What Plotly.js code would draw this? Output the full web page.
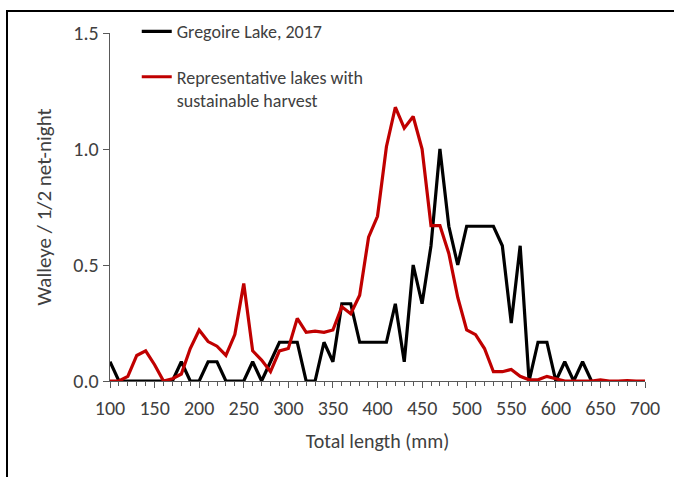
<!DOCTYPE html>
<html>
<head>
<meta charset="utf-8">
<script src="https://cdn.plot.ly/plotly-3.0.1.min.js"></script>
<style>
  html, body { margin: 0; padding: 0; background: #fff; }
  #frame { position: absolute; left: 6px; top: 10px; width: 700px; height: 500px;
           border-left: 2px solid #000; border-top: 2px solid #000; pointer-events: none; }
  #chart { position: absolute; left: 0; top: 0; width: 674px; height: 477px; }
</style>
</head>
<body>
<div id="chart"></div>
<div id="frame"></div>
<script>
// Total length (mm), 10-mm bins
const gregoireLength = [100,110,120,130,140,150,160,170,180,190,200,210,220,230,240,250,260,270,280,290,300,310,320,330,340,350,360,370,380,390,400,410,420,430,440,450,460,470,480,490,500,510,520,530,540,550,560,570,580,590,600,610,620,630,640];
const gregoireCatch = [0.083,0,0,0,0,0,0,0,0.083,0,0,0.083,0.083,0,0,0,0.083,0,0.083,0.167,0.167,0.167,0,0,0.167,0.083,0.333,0.333,0.167,0.167,0.167,0.167,0.333,0.083,0.5,0.333,0.583,1.0,0.667,0.5,0.667,0.667,0.667,0.667,0.583,0.25,0.583,0,0.167,0.167,0,0.083,0,0.083,0];

const refLength = [100,110,120,130,140,150,160,170,180,190,200,210,220,230,240,250,260,270,280,290,300,310,320,330,340,350,360,370,380,390,400,410,420,430,440,450,460,470,480,490,500,510,520,530,540,550,560,570,580,590,600,610,620,630,640,650,660,670,680,690,700];
const refCatch = [0,0,0.02,0.11,0.13,0.07,0.0,0.01,0.03,0.14,0.22,0.17,0.15,0.11,0.2,0.42,0.13,0.09,0.04,0.13,0.14,0.27,0.21,0.215,0.21,0.22,0.32,0.29,0.37,0.62,0.71,1.01,1.18,1.09,1.14,1.0,0.67,0.67,0.55,0.36,0.22,0.2,0.14,0.04,0.04,0.05,0.02,0.005,0.005,0.02,0.01,0.0,0,0,0,0.005,0,0,0.002,0,0];

const seriesNames = ["Gregoire Lake, 2017", "Representative lakes with<br>sustainable harvest"];
const xTicks = [100,150,200,250,300,350,400,450,500,550,600,650,700];
const yTicks = [0, 0.5, 1.0, 1.5];
const yTickText = ["0.0", "0.5", "1.0", "1.5"];

const FONT = "Carlito, Lato, 'Open Sans', sans-serif";
const TXT = "#404040";

const traces = [
  { x: gregoireLength, y: gregoireCatch, name: seriesNames[0], type: "scatter", mode: "lines",
    line: { color: "#000000", width: 3.2 }, legendgroup: "a" },
  { x: refLength, y: refCatch, name: seriesNames[1], type: "scatter", mode: "lines",
    line: { color: "#C00000", width: 3.2 }, legendgroup: "b" }
];

const layout = {
  width: 674, height: 477,
  margin: { l: 110, r: 29, t: 33, b: 96 },
  paper_bgcolor: "rgba(0,0,0,0)", plot_bgcolor: "#fff",
  font: { family: FONT, color: TXT, size: 20 },
  showlegend: true,
  legend: {
    x: 0.05, xanchor: "left", y: 1.057, yanchor: "top",
    bgcolor: "rgba(0,0,0,0)", borderwidth: 0,
    font: { family: FONT, size: 18, color: TXT },
    traceorder: "grouped", tracegroupgap: 19, valign: "top"
  },
  xaxis: {
    range: [100, 700], tickvals: xTicks, ticktext: xTicks.map(String),
    showgrid: false, zeroline: false, showline: true, linecolor: "#595959", linewidth: 1.3,
    ticks: "outside", ticklen: 6, tickcolor: "#595959", tickwidth: 1,
    ticklabelstandoff: 3,
    minor: { dtick: 10, tick0: 100, ticks: "outside", ticklen: 4, tickcolor: "#595959", showgrid: false },
    tickfont: { size: 20, color: TXT },
    title: { text: "Total length (mm)", font: { size: 20, color: TXT }, standoff: 14 }
  },
  yaxis: {
    range: [0, 1.5], tickvals: yTicks, ticktext: yTickText,
    showgrid: false, zeroline: false, showline: true, linecolor: "#595959", linewidth: 1.3,
    ticks: "outside", ticklen: 6, tickcolor: "#595959", tickwidth: 1,
    tickfont: { size: 20, color: TXT },
    title: { text: "Walleye / 1/2 net-night", font: { size: 21, color: TXT }, standoff: 16 }
  }
};

Plotly.newPlot("chart", traces, layout, { displayModeBar: false, staticPlot: true });
</script>
</body>
</html>
